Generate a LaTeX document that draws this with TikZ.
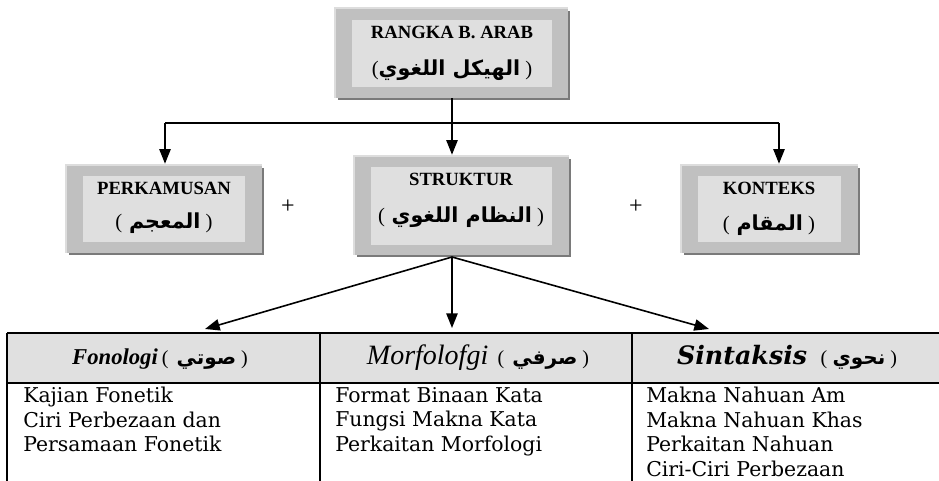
\documentclass[tikz,border=0pt]{standalone}
\usepackage{fontspec}
\setmainfont{Liberation Serif}
\newfontfamily\bodyfont{DejaVu Serif}
\newfontfamily\arabicfont[Script=Arabic]{DejaVu Sans}
\TeXXeTstate=1
\usetikzlibrary{arrows.meta,fit}
\definecolor{boxgrey}{HTML}{C0C0C0}
\definecolor{innergrey}{HTML}{DFDFDF}
\definecolor{lightedge}{HTML}{DDDDDD}
\definecolor{shadowgrey}{HTML}{7A7A7A}
\definecolor{headgrey}{HTML}{E0E0E0}
\newcommand\shbox[9]{%
  \fill[shadowgrey] (#2+4,#3+4) rectangle (#4+2,#5+2);
  \fill[lightedge] (#2,#3) rectangle (#4,#5);
  \fill[boxgrey] (#2+2,#3+2) rectangle (#4,#5);
  \fill[innergrey] (#6,#7) rectangle (#8,#9);
  \node[inner sep=0, fit={(#2,#3) (#4,#5)}] (#1) {};
}
\newcommand\artxt[1]{{\arabicfont\bfseries\beginR #1\endR}}
\newcommand\headarsize{\fontsize{15}{17}\selectfont}
\begin{document}
\begin{tikzpicture}[x=0.75pt,y=-0.75pt,
  conn/.style={line width=1.2pt},
  arr/.style={line width=1.2pt,-{Triangle[width=8.5pt,length=11pt]}},
  boxlatin/.style={inner sep=0, font=\fontsize{14}{16}\selectfont\bfseries},
  boxarab/.style={inner sep=0, font=\fontsize{15.5}{17}\selectfont},
  plus/.style={inner sep=0, font=\fontsize{18}{20}\selectfont},
  tline/.style={line width=1.4pt},
  body/.style={inner sep=0, anchor=north west, align=left, font=\bodyfont\fontsize{15.3}{18.4}\selectfont}]
\useasboundingbox (0,0) rectangle (939,481);
% boxes
\shbox{topO}{334}{7}{568}{98}{352}{20}{552}{87}
\shbox{perkO}{65}{164}{262}{253}{83}{176}{245}{242}
\shbox{strO}{353}{155}{569}{255}{371}{167}{552}{245}
\shbox{konO}{680}{164}{858}{253}{698}{176}{841}{242}
% box texts
\node[boxlatin] (topT) at (452,32) {RANGKA B. ARAB};
\node[boxarab] (topA) at (452,70) {(\artxt{الهيكل اللغوي} )};
\node[boxlatin] (perkT) at (164,188) {PERKAMUSAN};
\node[boxarab] (perkA) at (164,223) {(\hspace{5pt}\artxt{المعجم} )};
\node[boxlatin] (strT) at (461,179) {STRUKTUR};
\node[boxarab] (strA) at (461,217) {(\hspace{5pt}\artxt{النظام اللغوي} )};
\node[boxlatin] (konT) at (769,188) {KONTEKS};
\node[boxarab] (konA) at (769,225) {(\hspace{5pt}\artxt{المقام} )};
\node[plus] (plus1) at (288,207) {+};
\node[plus] (plus2) at (636,207) {+};
% top connectors
\coordinate (jc) at (452,123);
\coordinate (jl) at (165,123);
\coordinate (jr) at (779,123);
\draw[conn] (topO.south -| jc) -- (jc);
\draw[conn] (jl) -- (jr);
\draw[arr] (jl) -- (perkO.north -| jl);
\draw[arr] (jc) -- (strO.north -| jc);
\draw[arr] (jr) -- (konO.north -| jr);
% table
\fill[headgrey] (7,333) rectangle (945,383);
\node[inner sep=0, fit={(7,333) (320,383)}] (h1) {};
\node[inner sep=0, fit={(320,333) (632,383)}] (h2) {};
\node[inner sep=0, fit={(632,333) (945,383)}] (h3) {};
\draw[tline] (7,333) -- (945,333);
\draw[tline] (7,383) -- (945,383);
\draw[tline] (7,333) -- (7,485);
\draw[tline] (320,333) -- (320,485);
\draw[tline] (632,333) -- (632,485);
% header texts
\node[inner sep=0, anchor=base] (h1t) at (160,364) {{\fontsize{17}{19}\selectfont\bfseries\itshape Fonologi}\hspace{3pt}{\headarsize (\hspace{6pt}\artxt{صوتي} )}};
\node[inner sep=0, anchor=base] (h2t) at (478,364) {{\fontsize{21}{23}\selectfont\itshape Morfolofgi}\hspace{7pt}{\headarsize (\hspace{6pt}\artxt{صرفي} )}};
\node[inner sep=0, anchor=base] (h3t) at (787,364) {{\bodyfont\fontsize{19}{21}\selectfont\bfseries\itshape Sintaksis}\hspace{10pt}{\headarsize (\hspace{4pt}\artxt{نحوي} )}};
% lower arrows
\coordinate (fork) at (452,257);
\coordinate (tl) at (205,329);
\coordinate (tc) at (452,328);
\coordinate (tr) at (709,329);
\draw[arr] (fork) -- (tl);
\draw[arr] (fork) -- (tc);
\draw[arr] (fork) -- (tr);
% body texts
\node[body] (b1) at (23,387) {Kajian Fonetik\\Ciri Perbezaan dan\\Persamaan Fonetik};
\node[body] (b2) at (335,387) {Format Binaan Kata\\Fungsi Makna Kata\\Perkaitan Morfologi};
\node[body] (b3) at (646,387) {Makna Nahuan Am\\Makna Nahuan Khas\\Perkaitan Nahuan\\Ciri-Ciri Perbezaan};
\end{tikzpicture}
\end{document}
